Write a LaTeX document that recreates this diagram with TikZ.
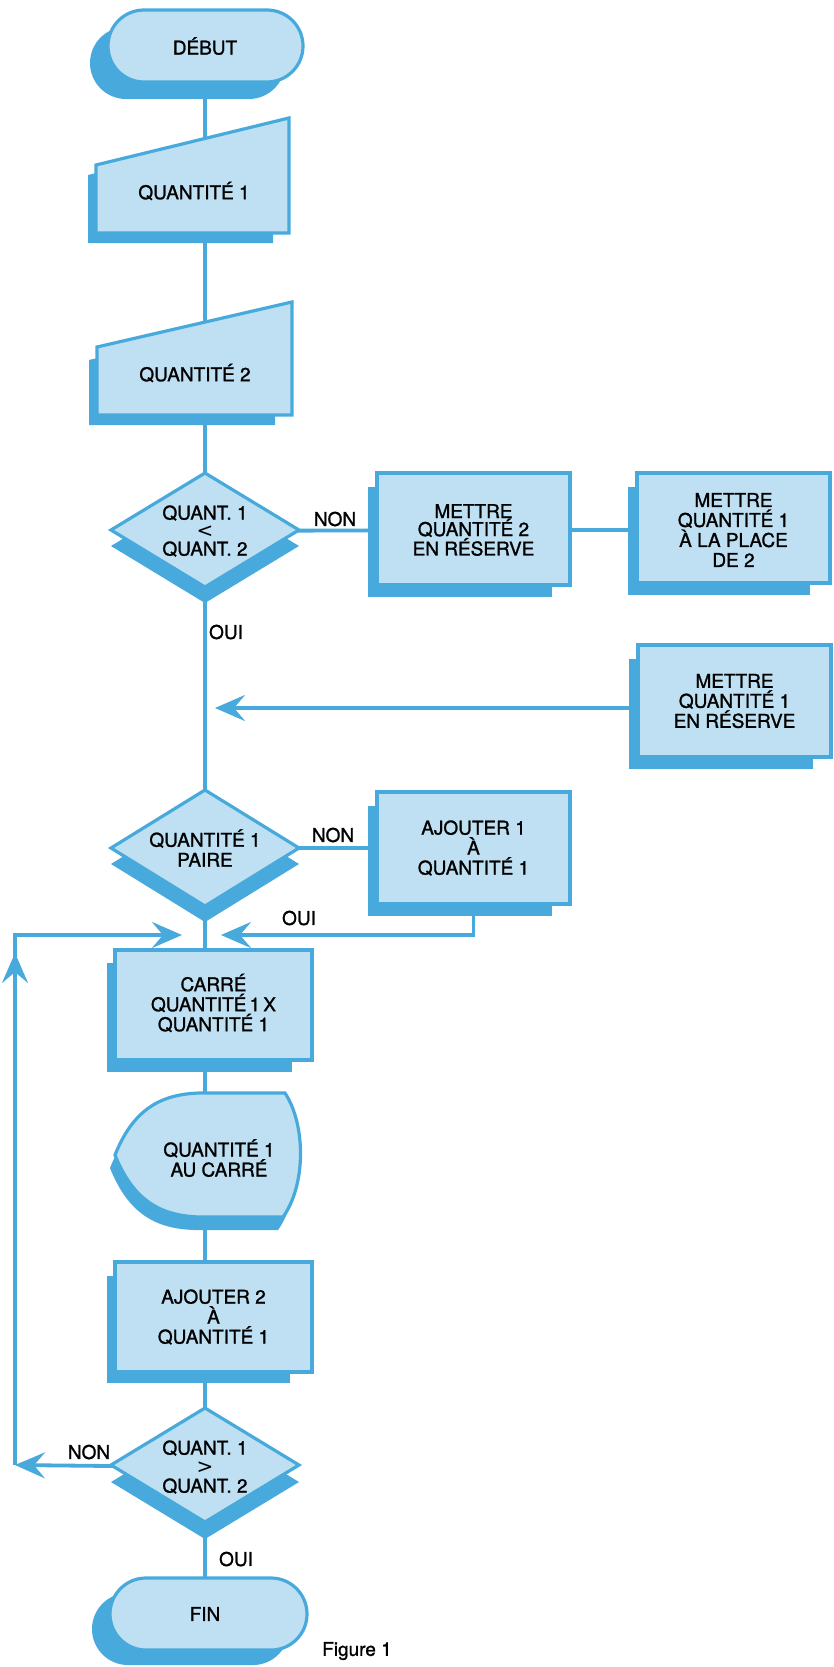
\documentclass[tikz,border=0pt]{standalone}
\usepackage{fontspec}
\setmainfont{TeX Gyre Heros}[FakeBold=1.2]
\newfontfamily\fcsym{DejaVu Sans}
\usetikzlibrary{arrows.meta}
\definecolor{fcblue}{HTML}{48AADC}
\definecolor{fclight}{HTML}{BEE0F2}
\newcommand\fcfont{\fontsize{19}{20}\selectfont}
\newcommand\fclt{{\fcsym\fontsize{20}{16}\selectfont <}}
\newcommand\fcgt{{\fcsym\fontsize{20}{16}\selectfont >}}
\pgfdeclarelayer{paper}
\pgfdeclarelayer{links}
\pgfsetlayers{paper,links,main}
\begin{document}
\begin{tikzpicture}[x=1pt,y=-1pt,
  shapebox/.style={fill=fclight, draw=fcblue, line width=3.2pt, line join=miter},
  shade/.style={fill=fcblue, draw=none},
  conn/.style={draw=fcblue, line width=3.8pt},
  arr/.style={-{Stealth[length=30pt,width=26pt,inset=11pt]}},
  lbl/.style={font=\fcfont, inner sep=0pt, align=center, text=black},
]
\begin{pgfonlayer}{paper}
\fill[white] (0,0) rectangle (833,1667);
\end{pgfonlayer}
\useasboundingbox (0,0) rectangle (833,1667);

% DEBUT
\path[shade, rounded corners=36pt] (90,27) rectangle (285,99);
\path[shapebox, rounded corners=36pt] (108,10) rectangle (303,82);
% QUANTITE 1
\path[shade] (88,175) -- (273,129) -- (273,243) -- (88,243) -- cycle;
\path[shapebox] (96,165) -- (289,118) -- (289,233) -- (96,233) -- cycle;
% QUANTITE 2
\path[shade] (89,360) -- (275,317) -- (275,425) -- (89,425) -- cycle;
\path[shapebox] (97,347) -- (292,302) -- (292,415) -- (97,415) -- cycle;
% diamond 1
\path[shade] (205,489) -- (299,546) -- (205,603) -- (111,546) -- cycle;
\path[shapebox] (205,473) -- (299,530) -- (205,587) -- (111,530) -- cycle;
% boxes right
\path[shade] (368,487) rectangle (552,597);
\path[shapebox] (377,473) rectangle (570,585);
\path[shade] (628,487) rectangle (810,595);
\path[shapebox] (637,473) rectangle (830,583);
\path[shade] (629,659) rectangle (813,769);
\path[shapebox] (638,645) rectangle (831,757);
% diamond 2
\path[shade] (205,806) -- (299,864) -- (205,922) -- (111,864) -- cycle;
\path[shapebox] (205,790) -- (299,848) -- (205,906) -- (111,848) -- cycle;
% ajouter 1
\path[shade] (368,806) rectangle (552,916);
\path[shapebox] (377,792) rectangle (570,904);
% carre
\path[shade] (107,963) rectangle (292,1072);
\path[shapebox] (115,950) rectangle (312,1060);
% display
\path[shade, shift={(-5,13)}] (115,1155) .. controls (133,1110) and (160,1094) .. (200,1093) -- (285,1093) .. controls (306,1125) and (306,1185) .. (283,1217) -- (200,1217) .. controls (160,1216) and (133,1200) .. (115,1155) -- cycle;
\path[shapebox] (115,1155) .. controls (133,1110) and (160,1094) .. (200,1093) -- (285,1093) .. controls (306,1125) and (306,1185) .. (283,1217) -- (200,1217) .. controls (160,1216) and (133,1200) .. (115,1155) -- cycle;
% ajouter 2
\path[shade] (107,1276) rectangle (290,1383);
\path[shapebox] (115,1262) rectangle (312,1372);
% diamond 3
\path[shade] (205,1425) -- (299,1482) -- (205,1539) -- (111,1482) -- cycle;
\path[shapebox] (205,1408) -- (299,1465) -- (205,1522) -- (111,1465) -- cycle;
% FIN
\path[shade, rounded corners=36pt] (92,1593) rectangle (289,1665);
\path[shapebox, rounded corners=36pt] (110,1578) rectangle (307,1650);

% texts
\node[lbl] (debut) at (205,46) {DÉBUT};
\node[lbl] (q1) at (194,191) {QUANTITÉ 1};
\node[lbl] (q2) at (195,373) {QUANTITÉ 2};
\node[lbl, font=\fontsize{19}{18}\selectfont] (d1) at (205,531) {QUANT. 1\\\fclt\\QUANT. 2};
\node[lbl, font=\fontsize{19}{18}\selectfont] (m2) at (473.5,530) {METTRE\\QUANTITÉ 2\\EN RÉSERVE};
\node[lbl] (m1) at (733.5,530) {METTRE\\QUANTITÉ 1\\À LA PLACE\\DE 2};
\node[lbl] (r1) at (734.5,701) {METTRE\\QUANTITÉ 1\\EN RÉSERVE};
\node[lbl] (d2) at (205,848) {QUANTITÉ 1\\PAIRE};
\node[lbl] (aj1) at (473.5,848) {AJOUTER 1\\À\\QUANTITÉ 1};
\node[lbl] (carre) at (213.5,1003) {CARRÉ\\QUANTITÉ\,1\,X\\QUANTITÉ 1};
\node[lbl] (disp) at (219,1158) {QUANTITÉ 1\\AU CARRÉ};
\node[lbl] (aj2) at (213.5,1317) {AJOUTER 2\\À\\QUANTITÉ 1};
\node[lbl, font=\fontsize{19}{19}\selectfont] (d3) at (205,1467) {QUANT. 1\\\fcgt\\QUANT. 2};
\node[lbl] (fin) at (205,1614) {FIN};
% labels
\node[lbl] (non1) at (335,519) {NON};
\node[lbl] (oui1) at (226,632) {OUI};
\node[lbl] (non2) at (333,835) {NON};
\node[lbl] (oui2) at (299,918) {OUI};
\node[lbl] (non3) at (89,1452) {NON};
\node[lbl] (oui3) at (236,1559) {OUI};
\node[lbl] (fig) at (357,1651) {Figure 1};

% connectors
\coordinate (axis) at (205,0);
\coordinate (ret1) at (215,708);
\coordinate (ret2) at (221,935);
\coordinate (loopb) at (15,1465);
\coordinate (loopt) at (15,935);
\coordinate (loopm) at (15,953);
\coordinate (ret3) at (182,935);
\begin{pgfonlayer}{links}
\draw[conn] (debut.center) -- (axis |- q1.center) -- (axis |- q2.center) -- (d1.center) -- (d2.center) -- (axis |- carre.center) -- (axis |- disp.center) -- (axis |- aj2.center) -- (d3.center) -- (fin.center);
\draw[conn] (d1.center) -- (m2.center) -- (m1.center);
\draw[conn,arr] (r1.center |- ret1) -- (ret1);
\draw[conn] (d2.center) -- (aj1.center);
\draw[conn,arr] (aj1.center) -- (aj1.center |- ret2) -- (ret2);
\draw[conn,arr] (d3.center) -- (loopb);
\draw[conn,arr] (loopb) -- (loopt) -- (ret3);
\draw[conn,arr] (loopb) -- (loopm);
\end{pgfonlayer}
\end{tikzpicture}
\end{document}
